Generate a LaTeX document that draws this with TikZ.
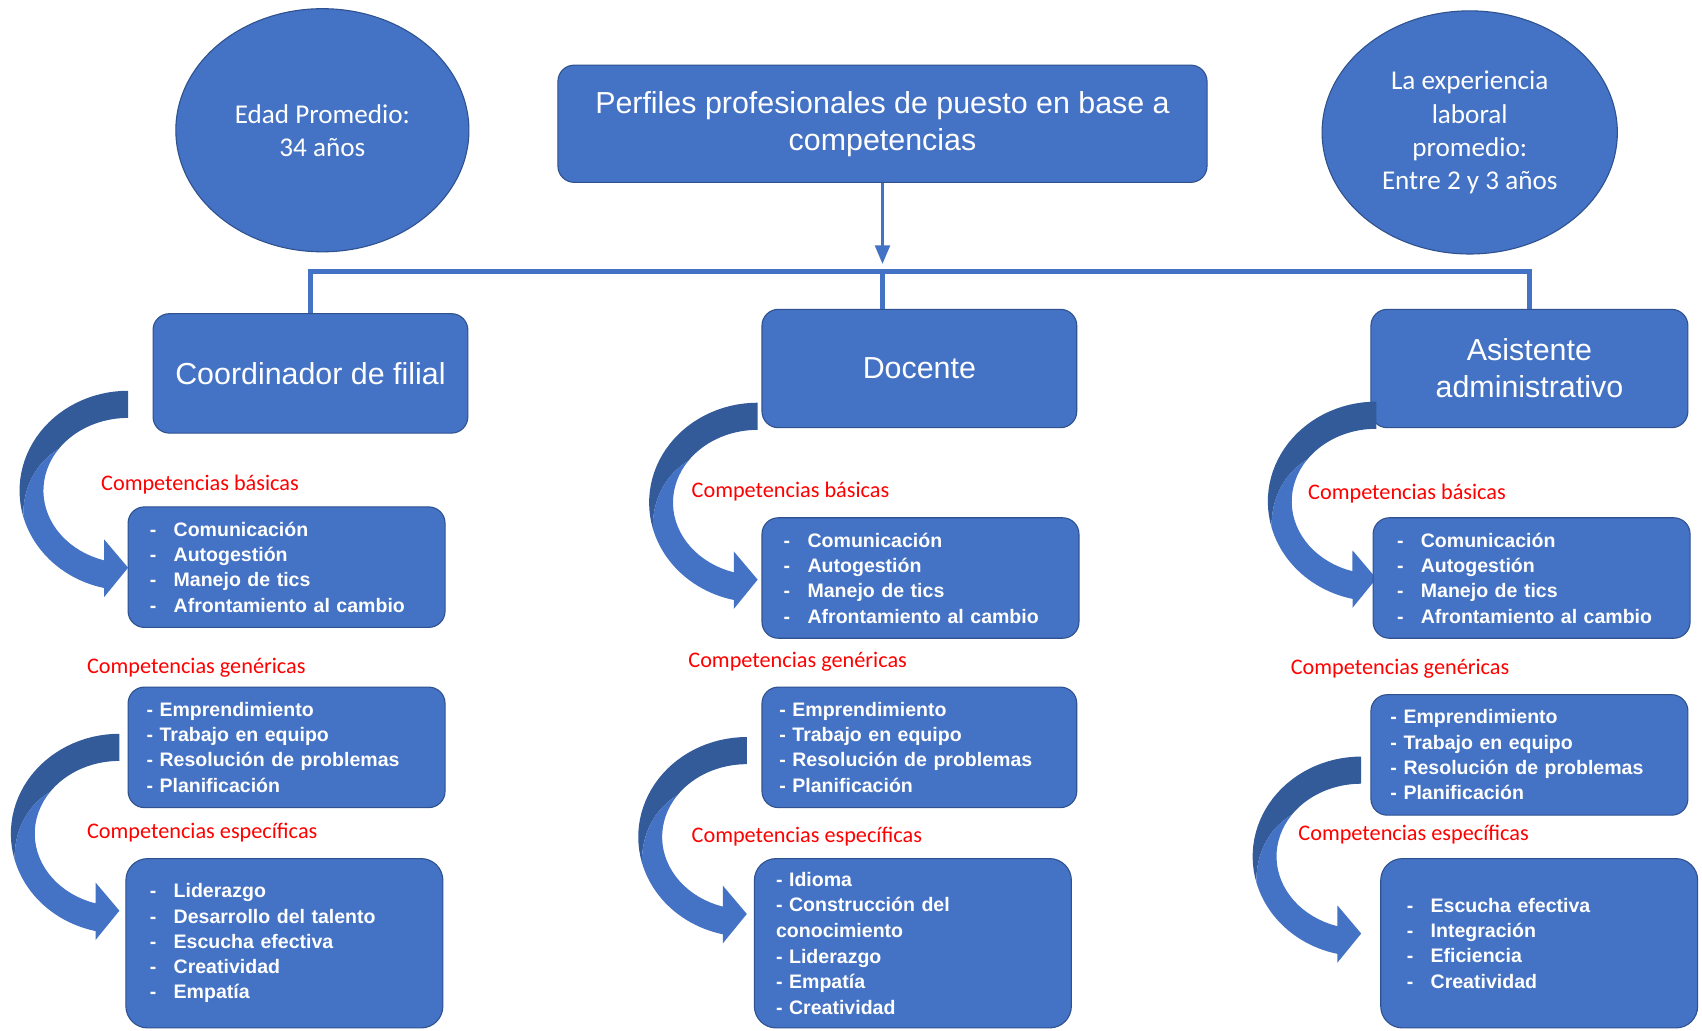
\documentclass[tikz,border=0pt]{standalone}
\usepackage{fontspec}
\setmainfont{Liberation Sans}
\newfontfamily\calibri{Carlito}
\usetikzlibrary{shapes.geometric, positioning, arrows}
\definecolor{azul}{HTML}{4472C4}
\definecolor{azuloscuro}{HTML}{335A99}
\definecolor{bordeazul}{HTML}{2F528F}
\newcommand{\guion}{\makebox[22pt][l]{-}}
\tikzset{x=1pt, y=-1pt, % one unit = one pixel of the sketch, y downwards
caja/.style={ % profile boxes
draw=bordeazul, fill=azul, line width=1pt,
rounded corners=15pt, text=white, align=center,
minimum width=290pt, minimum height=109pt,
font=\fontsize{28}{34}\selectfont},
lista/.style={ % boxes with the list of competencies
draw=bordeazul, fill=azul, line width=1pt,
rounded corners=15pt, text=white, align=left,
minimum height=111pt, text width=252pt, inner xsep=20pt,
font=\bfseries\fontsize{18}{23.3}\selectfont},
circulo/.style={
ellipse, draw=bordeazul, fill=azul, line width=1pt,
text=white, align=center, inner sep=0pt,
minimum width=270pt, minimum height=224pt,
font=\calibri\fontsize{25}{30.5}\selectfont},
etiqueta/.style={ % red headers
text=red, anchor=west, inner sep=0pt,
font=\calibri\fontsize{20.5}{24}\selectfont},
conector/.style={draw=azul, line width=4pt},
>=triangle 45,
curvarrow/.pic={ % curved arrow, origin at its upper right end
% back side (darker)
\fill[azuloscuro] plot[domain=270:165, samples=30] ({100*cos(\x)}, {92+92*sin(\x)})
-- plot[domain=165:215, samples=20] ({(78+22*(215-\x)/50)*cos(\x)}, {92+(67+25*(215-\x)/50)*sin(\x)})
-- plot[domain=215:270, samples=20] ({78*cos(\x)}, {92+67*sin(\x)}) -- cycle;
% front side with its head
\fill[azul] plot[domain=215:165, samples=20] ({(78+22*(215-\x)/50)*cos(\x)}, {92+(67+25*(215-\x)/50)*sin(\x)})
-- plot[domain=165:102.7, samples=25] ({100*cos(\x)}, {92+92*sin(\x)})
-- (-22,190) -- (0,163) -- (-22,137)
-- plot[domain=106.4:215, samples=25] ({78*cos(\x)}, {92+67*sin(\x)}) -- cycle;
}}

\begin{document}
\begin{tikzpicture}

    \fill[white] (0,0) rectangle (1568,949);
    \useasboundingbox (0,0) rectangle (1568,949);

    % top row
    \node[circulo] (edad) at (297,120) {Edad Promedio:\\34 años};
    \node[caja, minimum width=598pt, minimum height=108pt] (titulo) at (813,114) {Perfiles profesionales de puesto en base a\\competencias};
    \node[circulo, minimum width=272pt] (exper) at (1354,122) {La experiencia\\laboral\\promedio:\\Entre 2 y 3 años};

    % profiles
    \node[caja, minimum height=110pt] (coord) at (286,344) {Coordinador de filial};
    \node[caja] (docente) at (847,339.5) {Docente};
    \node[caja, minimum width=292pt] (asist) at (1409,339.5) {Asistente\\administrativo};

    \coordinate (bus) at (813,250);
    \draw[conector, line width=3pt, ->, shorten >=7pt] (titulo) -- (bus);
    \draw[conector] (coord) |- (bus) -| (asist);
    \draw[conector] (bus) -- (bus |- docente.north);

    % curved arrows
    \pic at (118,360) {curvarrow};
    \pic at (110,676) {curvarrow};
    \pic at (698,371) {curvarrow};
    \pic at (688,679) {curvarrow};
    \pic at (1268,370) {curvarrow};
    \pic at (1254,697) {curvarrow};

    % Coordinador de filial
    \node[etiqueta] (eb1) at (93,446) {Competencias básicas};
    \node[lista] (basica1) at (264,522.5) {\guion Comunicación\\\guion Autogestión\\\guion Manejo de tics\\\guion Afrontamiento al cambio};
    \node[etiqueta] (eg1) at (80,615) {Competencias genéricas};
    \node[lista, inner xsep=17pt, text width=258pt] (generica1) at (264,688.5) {- Emprendimiento\\- Trabajo en equipo\\- Resolución de problemas\\- Planificación};
    \node[etiqueta] (ee1) at (80,767) {Competencias específicas};
    \node[lista, minimum height=156pt, rounded corners=20pt, inner xsep=22pt, text width=248pt] (especifica1) at (262,869) {\guion Liderazgo\\\guion Desarrollo del talento\\\guion Escucha efectiva\\\guion Creatividad\\\guion Empatía};

    % Docente
    \node[etiqueta] (eb2) at (637,453) {Competencias básicas};
    \node[lista] (basica2) at (848,532.5) {\guion Comunicación\\\guion Autogestión\\\guion Manejo de tics\\\guion Afrontamiento al cambio};
    \node[etiqueta] (eg2) at (634,610) {Competencias genéricas};
    \node[lista, inner xsep=16pt, text width=258pt] (generica2) at (847,688.5) {- Emprendimiento\\- Trabajo en equipo\\- Resolución de problemas\\- Planificación};
    \node[etiqueta] (ee2) at (637,771) {Competencias específicas};
    \node[lista, minimum height=156pt, rounded corners=20pt, font=\bfseries\fontsize{18}{23.6}\selectfont] (especifica2) at (841,869) {- Idioma\\- Construcción del\\conocimiento\\- Liderazgo\\- Empatía\\- Creatividad};

    % Asistente administrativo
    \node[etiqueta] (eb3) at (1205,455) {Competencias básicas};
    \node[lista, inner xsep=22pt, text width=248pt] (basica3) at (1411,532.5) {\guion Comunicación\\\guion Autogestión\\\guion Manejo de tics\\\guion Afrontamiento al cambio};
    \node[etiqueta] (eg3) at (1189,616) {Competencias genéricas};
    \node[lista, inner xsep=18pt, text width=256pt] (generica3) at (1409,695.5) {- Emprendimiento\\- Trabajo en equipo\\- Resolución de problemas\\- Planificación};
    \node[etiqueta] (ee3) at (1196,769) {Competencias específicas};
    \node[lista, minimum height=156pt, rounded corners=20pt, inner xsep=24pt, text width=244pt] (especifica3) at (1418,869) {\guion Escucha efectiva\\\guion Integración\\\guion Eficiencia\\\guion Creatividad};

\end{tikzpicture}
\end{document}
